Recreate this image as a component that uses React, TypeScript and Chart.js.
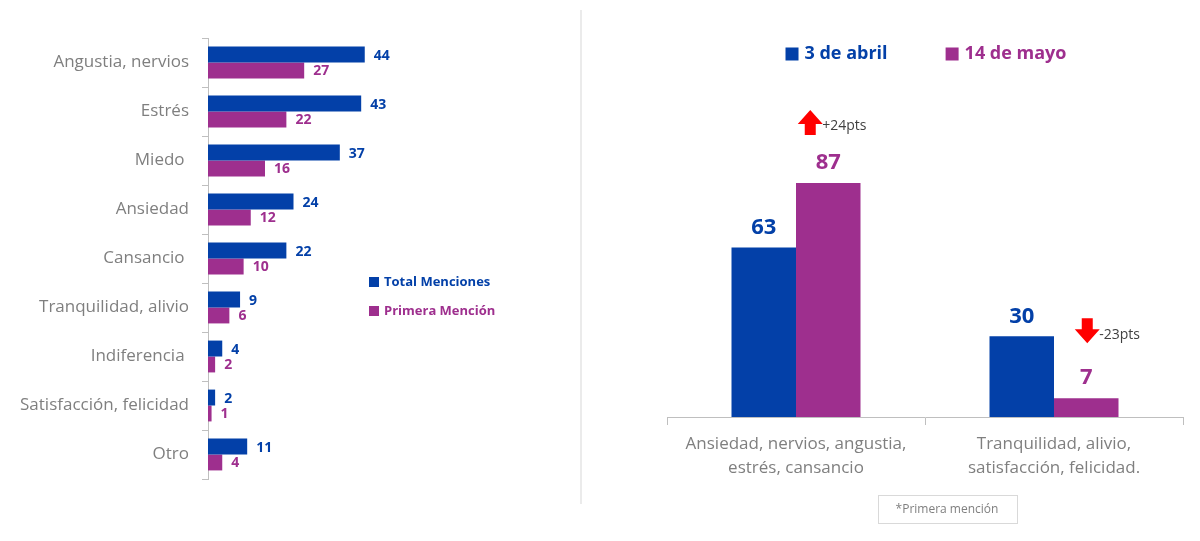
import React, { useEffect, useRef } from "react";
import { Chart, registerables } from "chart.js";

Chart.register(...registerables);

// ---------- Data ----------
const leftCategories = [
  "Angustia, nervios",
  "Estrés",
  "Miedo ",
  "Ansiedad",
  "Cansancio ",
  "Tranquilidad, alivio",
  "Indiferencia ",
  "Satisfacción, felicidad",
  "Otro",
];
const totalMenciones = [44, 43, 37, 24, 22, 9, 4, 2, 11];
const primeraMencion = [27, 22, 16, 12, 10, 6, 2, 1, 4];
const leftSeriesLabels = ["Total Menciones", "Primera Mención"];

const rightCategories = [
  ["Ansiedad, nervios, angustia,", "estrés, cansancio"],
  ["Tranquilidad, alivio,", "satisfacción, felicidad."],
];
const abril = [63, 30];
const mayo = [87, 7];
const rightSeriesLabels = ["3 de abril", "14 de mayo"];
const changeLabels = ["+24pts", "-23pts"];
const footnote = "*Primera mención";

// ---------- Styles ----------
const BLUE = "#0340A8";
const MAGENTA = "#9E2F8E";
const GRAY_TEXT = "#7F7F7F";
const AXIS = "#BFBFBF";
const FONT = "'Open Sans', 'Noto Sans', sans-serif";

const valueLabelPlugin = {
  id: "valueLabels",
  afterDatasetsDraw(chart: any, _args: any, opts: any) {
    const ctx = chart.ctx;
    ctx.save();
    chart.data.datasets.forEach((ds: any, di: number) => {
      const meta = chart.getDatasetMeta(di);
      meta.data.forEach((el: any, i: number) => {
        const v = ds.data[i];
        ctx.fillStyle = ds.backgroundColor;
        ctx.font = `bold ${opts.size}px ${FONT}`;
        if (opts.horizontal) {
          ctx.textAlign = "left";
          ctx.textBaseline = "middle";
          ctx.fillText(String(v), el.x + 9, el.y + 1);
        } else {
          ctx.textAlign = "center";
          ctx.textBaseline = "middle";
          ctx.fillText(String(v), el.x, el.y - 20);
        }
      });
    });
    ctx.restore();
  },
};

const leftLegendPlugin = {
  id: "leftLegend",
  afterDraw(chart: any) {
    const ctx = chart.ctx;
    const { left } = chart.chartArea;
    ctx.save();
    chart.data.datasets.forEach((ds: any, di: number) => {
      const x = left + 161;
      const y = 282 + di * 29;
      ctx.fillStyle = ds.backgroundColor;
      ctx.fillRect(x, y - 5, 10, 10);
      ctx.font = `bold 13px ${FONT}`;
      ctx.textAlign = "left";
      ctx.textBaseline = "middle";
      ctx.fillText(ds.label, x + 15, y);
    });
    ctx.restore();
  },
};

const rightExtrasPlugin = {
  id: "rightExtras",
  afterDraw(chart: any) {
    const ctx = chart.ctx;
    const ca = chart.chartArea;
    ctx.save();
    // legend
    ctx.font = `bold 18px ${FONT}`;
    const sq = 13;
    const items = chart.data.datasets.map((ds: any) => ({
      label: ds.label,
      color: ds.backgroundColor,
      w: sq + 6 + ctx.measureText(ds.label).width,
    }));
    const spacing = 58;
    const total = items.reduce((s: number, it: any) => s + it.w, 0) + spacing * (items.length - 1);
    let x = (ca.left + ca.right) / 2 + 1 - total / 2;
    const ly = 54;
    items.forEach((it: any) => {
      ctx.fillStyle = it.color;
      ctx.fillRect(x, ly - sq / 2, sq, sq);
      ctx.textAlign = "left";
      ctx.textBaseline = "middle";
      ctx.fillText(it.label, x + sq + 6, ly);
      x += it.w + spacing;
    });

    // change arrows
    const magMeta = chart.getDatasetMeta(1);
    const drawArrow = (cx: number, top: number, up: boolean) => {
      const headW = 25, headH = 14, shaftW = 11, h = 25;
      ctx.fillStyle = "#FF0000";
      ctx.beginPath();
      if (up) {
        ctx.moveTo(cx, top);
        ctx.lineTo(cx + headW / 2, top + headH);
        ctx.lineTo(cx + shaftW / 2, top + headH);
        ctx.lineTo(cx + shaftW / 2, top + h);
        ctx.lineTo(cx - shaftW / 2, top + h);
        ctx.lineTo(cx - shaftW / 2, top + headH);
        ctx.lineTo(cx - headW / 2, top + headH);
      } else {
        ctx.moveTo(cx - shaftW / 2, top);
        ctx.lineTo(cx + shaftW / 2, top);
        ctx.lineTo(cx + shaftW / 2, top + h - headH);
        ctx.lineTo(cx + headW / 2, top + h - headH);
        ctx.lineTo(cx, top + h);
        ctx.lineTo(cx - headW / 2, top + h - headH);
        ctx.lineTo(cx - shaftW / 2, top + h - headH);
      }
      ctx.closePath();
      ctx.fill();
    };
    changeLabels.forEach((lbl, i) => {
      const el = magMeta.data[i];
      const up = lbl.startsWith("+");
      let cx: number, top: number;
      if (up) {
        cx = el.x - 18;
        top = el.y - 73;
      } else {
        cx = el.x + 1;
        top = chart.getDatasetMeta(0).data[i].y - 18;
      }
      drawArrow(cx, top, up);
      ctx.fillStyle = "#404040";
      ctx.font = `14px ${FONT}`;
      ctx.textAlign = "left";
      ctx.textBaseline = "middle";
      ctx.fillText(lbl, cx + 12, up ? top + 16 : top + 17);
    });

    // footnote box
    ctx.font = `12px ${FONT}`;
    const fx = (ca.left + ca.right) / 2 + 22;
    const fw = 139, fh = 28, fy = 495;
    ctx.strokeStyle = "#D9D9D9";
    ctx.lineWidth = 1;
    ctx.strokeRect(Math.round(fx - fw / 2) + 0.5, fy + 0.5, fw, fh);
    ctx.fillStyle = GRAY_TEXT;
    ctx.textAlign = "center";
    ctx.textBaseline = "middle";
    ctx.fillText(footnote, fx, fy + fh / 2 + 1);
    ctx.restore();
  },
};

function LeftChart() {
  const ref = useRef<HTMLCanvasElement>(null);
  useEffect(() => {
    const chart = new Chart(ref.current!, {
      type: "bar",
      data: {
        labels: leftCategories,
        datasets: [
          { label: leftSeriesLabels[0], data: totalMenciones, backgroundColor: BLUE, categoryPercentage: 0.65, barPercentage: 1 },
          { label: leftSeriesLabels[1], data: primeraMencion, backgroundColor: MAGENTA, categoryPercentage: 0.65, barPercentage: 1 },
        ],
      },
      options: {
        indexAxis: "y",
        animation: false,
        responsive: false,
        layout: { padding: { top: 38, bottom: 62, right: 87, left: 0 } },
        plugins: { legend: { display: false }, tooltip: { enabled: false }, valueLabels: { size: 14, horizontal: true } } as any,
        scales: {
          x: { display: false, min: 0, max: 80 },
          y: {
            afterFit: (s: any) => { s.width = 208; },
            border: { color: AXIS, width: 1 },
            grid: { drawOnChartArea: false, drawTicks: true, tickLength: 6, color: AXIS, offset: true },
            ticks: { color: GRAY_TEXT, font: { family: FONT, size: 17 }, padding: 13 },
          },
        },
      },
      plugins: [valueLabelPlugin, leftLegendPlugin],
    } as any);
    return () => chart.destroy();
  }, []);
  return <canvas ref={ref} width={580} height={541} style={{ position: "absolute", left: 0, top: 0 }} />;
}

function RightChart() {
  const ref = useRef<HTMLCanvasElement>(null);
  useEffect(() => {
    const chart = new Chart(ref.current!, {
      type: "bar",
      data: {
        labels: rightCategories,
        datasets: [
          { label: rightSeriesLabels[0], data: abril, backgroundColor: BLUE, categoryPercentage: 0.5, barPercentage: 1 },
          { label: rightSeriesLabels[1], data: mayo, backgroundColor: MAGENTA, categoryPercentage: 0.5, barPercentage: 1 },
        ],
      },
      options: {
        animation: false,
        responsive: false,
        layout: { padding: { top: 148, bottom: 0, left: 85, right: 17 } },
        plugins: { legend: { display: false }, tooltip: { enabled: false }, valueLabels: { size: 22, horizontal: false } } as any,
        scales: {
          y: { display: false, min: 0, max: 100 },
          x: {
            afterFit: (s: any) => { s.height = 124; },
            border: { color: AXIS, width: 1 },
            grid: { drawOnChartArea: false, drawTicks: true, tickLength: 8, color: AXIS, offset: true },
            ticks: { color: GRAY_TEXT, font: { family: FONT, size: 17, lineHeight: 1.4 }, padding: 7, maxRotation: 0 },
          },
        },
      },
      plugins: [valueLabelPlugin, rightExtrasPlugin],
    } as any);
    return () => chart.destroy();
  }, []);
  return <canvas ref={ref} width={618} height={541} style={{ position: "absolute", left: 582, top: 0 }} />;
}

export default function App() {
  return (
    <div style={{ position: "fixed", left: 0, top: 0, width: 1200, height: 541, background: "#fff", overflow: "hidden" }}>
      <LeftChart />
      <div style={{ position: "absolute", left: 580, top: 10, width: 2, height: 494, background: "#EBEBEB" }} />
      <RightChart />
    </div>
  );
}
